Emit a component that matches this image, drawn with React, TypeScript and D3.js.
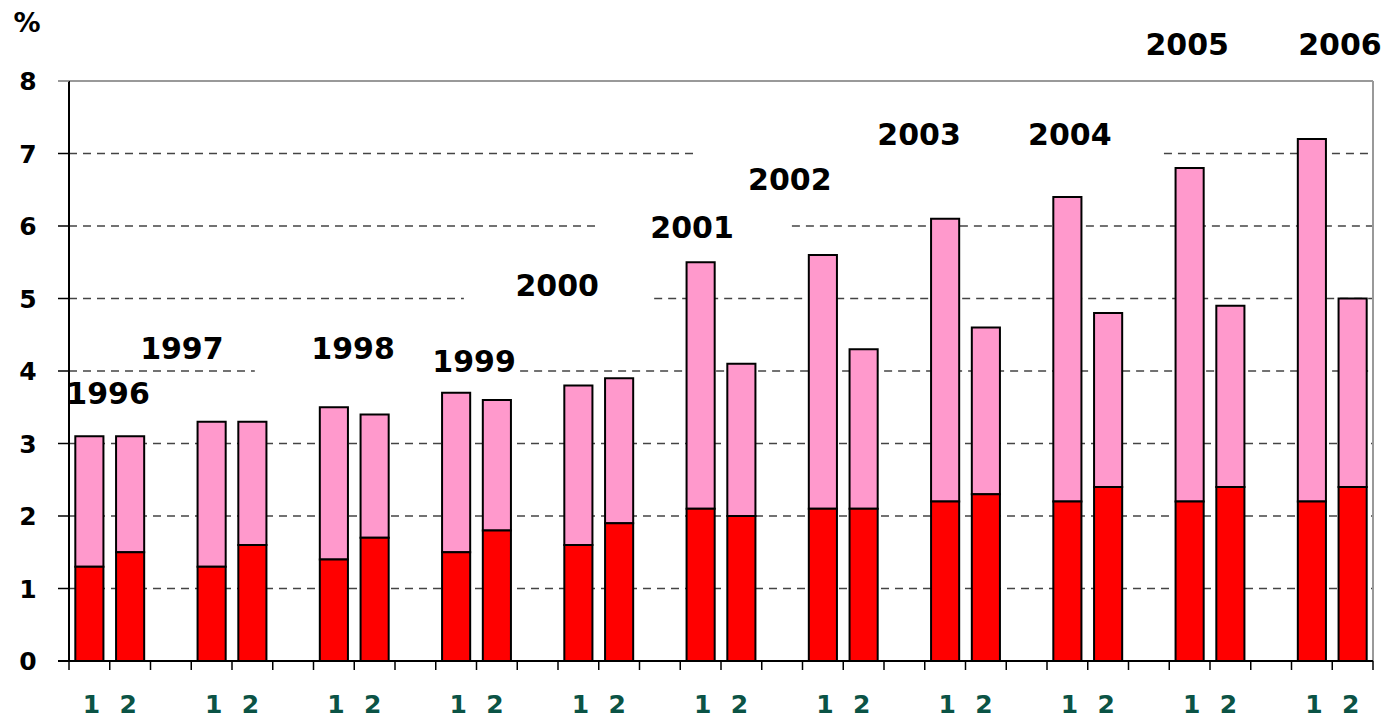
import React from "react";
import * as d3 from "d3";

// values (%)
const years = ["1996", "1997", "1998", "1999", "2000", "2001", "2002", "2003", "2004", "2005", "2006"];
const red1 = [1.3, 1.3, 1.4, 1.5, 1.6, 2.1, 2.1, 2.2, 2.2, 2.2, 2.2];
const total1 = [3.1, 3.3, 3.5, 3.7, 3.8, 5.5, 5.6, 6.1, 6.4, 6.8, 7.2];
const red2 = [1.5, 1.6, 1.7, 1.8, 1.9, 2.0, 2.1, 2.3, 2.4, 2.4, 2.4];
const total2 = [3.1, 3.3, 3.4, 3.6, 3.9, 4.1, 4.3, 4.6, 4.8, 4.9, 5.0];
const yTicks = [0, 1, 2, 3, 4, 5, 6, 7, 8];
const barNames = ["1", "2"];

// where each year caption sits: [slot position, value level of its baseline]
const yearLabelSpot: [number, number][] = [
  [0.96, 3.55], [2.77, 4.17], [6.97, 4.17], [9.94, 3.99], [11.98, 5.03],
  [15.29, 5.83], [17.69, 6.5], [20.86, 7.12], [24.56, 7.12], [27.44, 8.36], [31.19, 8.36],
];

// gridline gaps left by the caption boxes (in slot units)
const gridGaps: { v: number; from: number; to: number }[] = [
  { v: 4, from: 4.56, to: 11.07 },
  { v: 5, from: 9.69, to: 14.36 },
  { v: 6, from: 12.93, to: 17.74 },
  { v: 7, from: 15.34, to: 26.87 },
];

const W = 1393;
const H = 720;
const left = 69;
const right = 1373;
const top = 81;
const bottom = 661;
const FONT = "'DejaVu Sans', Verdana, sans-serif";

const slots: string[] = [];
years.forEach((y, i) => {
  slots.push(`${y}-1`, `${y}-2`);
  if (i < years.length - 1) slots.push(`${y}-gap`);
});

export default function App() {
  const x = d3.scaleBand<string>().domain(slots).range([left, right]).paddingInner(0.31).paddingOuter(0.155);
  const xs = d3.scaleLinear().domain([0, slots.length]).range([left, right]);
  const y = d3.scaleLinear().domain([0, 8]).range([bottom, top]);
  const step = x.step();

  const bars = years.flatMap((yr, i) => [
    { key: `${yr}-1`, red: red1[i], total: total1[i] },
    { key: `${yr}-2`, red: red2[i], total: total2[i] },
  ]);

  const gridSegs = yTicks
    .filter((v) => v > 0 && v < 8)
    .flatMap((v) => {
      const gap = gridGaps.find((g) => g.v === v);
      if (!gap) return [{ v, x1: left, x2: right }];
      return [
        { v, x1: left, x2: xs(gap.from) },
        { v, x1: xs(gap.to), x2: right },
      ];
    });

  const boundaries = d3.range(slots.length + 1).map((i) => xs(i));

  return (
    <svg width={W} height={H} style={{ position: "absolute", left: 0, top: 0, background: "#fff" }}>
      <rect width={W} height={H} fill="#fff" />

      {/* gridlines */}
      {gridSegs.map((s, i) => (
        <line key={i} x1={s.x1} x2={s.x2} y1={y(s.v)} y2={y(s.v)} stroke="#444" strokeWidth={1.3} strokeDasharray="8,6" />
      ))}

      {/* frame */}
      <line x1={left - 11} x2={right} y1={y(8)} y2={y(8)} stroke="#999" strokeWidth={2} />
      <line x1={right} x2={right} y1={y(8)} y2={bottom} stroke="#999" strokeWidth={2} />

      {/* year captions */}
      {years.map((yr, i) => (
        <text
          key={yr}
          x={xs(yearLabelSpot[i][0])}
          y={y(yearLabelSpot[i][1])}
          textAnchor="middle"
          fontFamily={FONT}
          fontWeight="bold"
          fontSize={30}
          fill="#000"
        >
          {yr}
        </text>
      ))}
      {/* the 1999 caption is cut off by its neighbour's box */}
      <rect x={xs(8.7)} y={y(4) + 1} width={xs(11.07) - xs(8.7)} height={8} fill="#fff" />

      {/* bars */}
      {bars.map((b) => (
        <g key={b.key}>
          <rect x={x(b.key)} y={y(b.total)} width={x.bandwidth()} height={y(b.red) - y(b.total)} fill="#FF99CC" stroke="#000" strokeWidth={2} />
          <rect x={x(b.key)} y={y(b.red)} width={x.bandwidth()} height={y(0) - y(b.red)} fill="#FF0000" stroke="#000" strokeWidth={2} />
        </g>
      ))}

      {/* axes */}
      <line x1={left} x2={left} y1={y(8)} y2={bottom} stroke="#000" strokeWidth={2} />
      <line x1={left - 11} x2={right} y1={bottom} y2={bottom} stroke="#000" strokeWidth={2} />
      {yTicks.map((v) => (
        <g key={v}>
          <line x1={left - 11} x2={left} y1={y(v)} y2={y(v)} stroke={v === 8 ? "#999" : "#000"} strokeWidth={1.5} />
          <text x={28} y={y(v)} dy="0.36em" textAnchor="middle" fontFamily={FONT} fontWeight="bold" fontSize={25} fill="#000">
            {v}
          </text>
        </g>
      ))}
      {boundaries.map((bx, i) => (
        <line key={i} x1={bx} x2={bx} y1={bottom} y2={bottom + 9} stroke="#000" strokeWidth={1.5} />
      ))}

      {/* bar numbers */}
      {years.map((yr) => {
        const c = ((x(`${yr}-1`) as number) + (x(`${yr}-2`) as number) + x.bandwidth()) / 2;
        return barNames.map((n, j) => (
          <text
            key={`${yr}-${n}`}
            x={c + (j === 0 ? -1 : 1) * step * 0.45}
            y={713}
            textAnchor="middle"
            fontFamily={FONT}
            fontWeight="bold"
            fontSize={25}
            fill="#0B5345"
          >
            {n}
          </text>
        ));
      })}

      <text x={27} y={32} textAnchor="middle" fontFamily={FONT} fontWeight="bold" fontSize={27} fill="#000">
        %
      </text>
    </svg>
  );
}
